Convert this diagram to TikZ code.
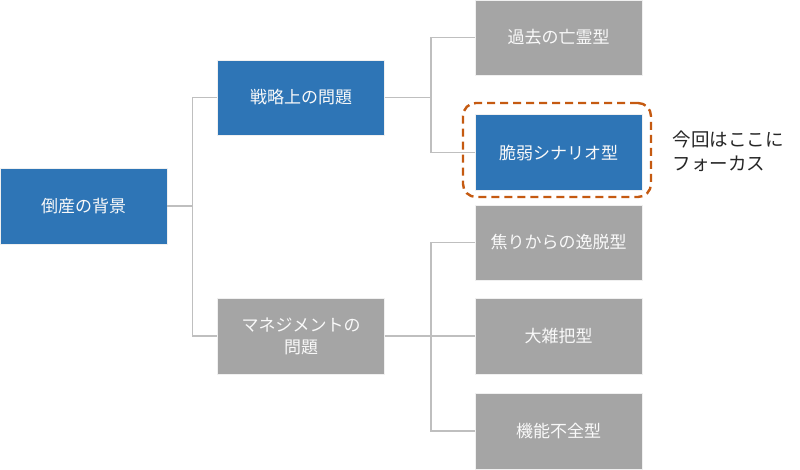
\documentclass[tikz,border=0pt]{standalone}
\usepackage{fontspec}
\setmainfont{Noto Sans CJK JP}
\newfontfamily\jpfont{Noto Sans CJK JP}
\definecolor{boxblue}{HTML}{2E75B6}
\definecolor{boxgray}{HTML}{A5A5A5}
\definecolor{linegray}{HTML}{BFBFBF}
\definecolor{focusorange}{HTML}{C55A11}
\definecolor{notetext}{HTML}{262626}
\begin{document}
\begin{tikzpicture}[x=1pt,y=-1pt,
  basebox/.style={rectangle, minimum width=167pt, minimum height=75pt, inner sep=0pt,
    draw=white!88!gray, line width=0.8pt, text=white!95!gray, font=\jpfont\fontsize{17}{22}\selectfont, align=center},
  bluebox/.style={basebox, fill=boxblue},
  graybox/.style={basebox, fill=boxgray},
  conn/.style={draw=linegray, line width=1.3pt},
  focusbox/.style={draw=focusorange, line width=2.4pt, dash pattern=on 8pt off 5pt, rounded corners=13pt},
  notestyle/.style={font=\jpfont\fontsize{18.5}{24}\selectfont, text=notetext, align=left, inner sep=0pt}]
\useasboundingbox (0,0) rectangle (800,469);
\fill[white] (0,0) rectangle (800,469);
\node[bluebox, minimum height=76pt] (bg) at (83.5,206) {倒産の背景};
\node[bluebox] (strat) at (301,97.5) {戦略上の問題};
\node[graybox, minimum height=76pt] (mgmt) at (301,336) {マネジメントの\\問題};
\node[graybox] (kako) at (558.5,37.5) {過去の亡霊型};
\node[bluebox, minimum height=76pt] (zei) at (558.5,152.5) {脆弱シナリオ型};
\node[graybox] (aseri) at (558.5,242.5) {焦りからの逸脱型};
\node[graybox, minimum height=76pt] (oza) at (558.5,336) {大雑把型};
\node[graybox, minimum height=76pt] (kino) at (558.5,431) {機能不全型};
\draw[conn] (bg.east) -- ++(25,0) |- (strat.west);
\draw[conn] (bg.east) -- ++(25,0) |- (mgmt.west);
\draw[conn] (strat.east) -- ++(46,0) |- (kako.west);
\draw[conn] (strat.east) -- ++(46,0) |- (zei.west);
\draw[conn] (mgmt.east) -- ++(46,0) |- (aseri.west);
\draw[conn] (mgmt.east) -- ++(46,0) |- (oza.west);
\draw[conn] (mgmt.east) -- ++(46,0) |- (kino.west);
\node[focusbox, minimum width=188pt, minimum height=94pt, inner sep=0pt] (focus) at (557,150) {};
\node[notestyle] (note) at (728,151) {今回はここに\\フォーカス};
\end{tikzpicture}
\end{document}
